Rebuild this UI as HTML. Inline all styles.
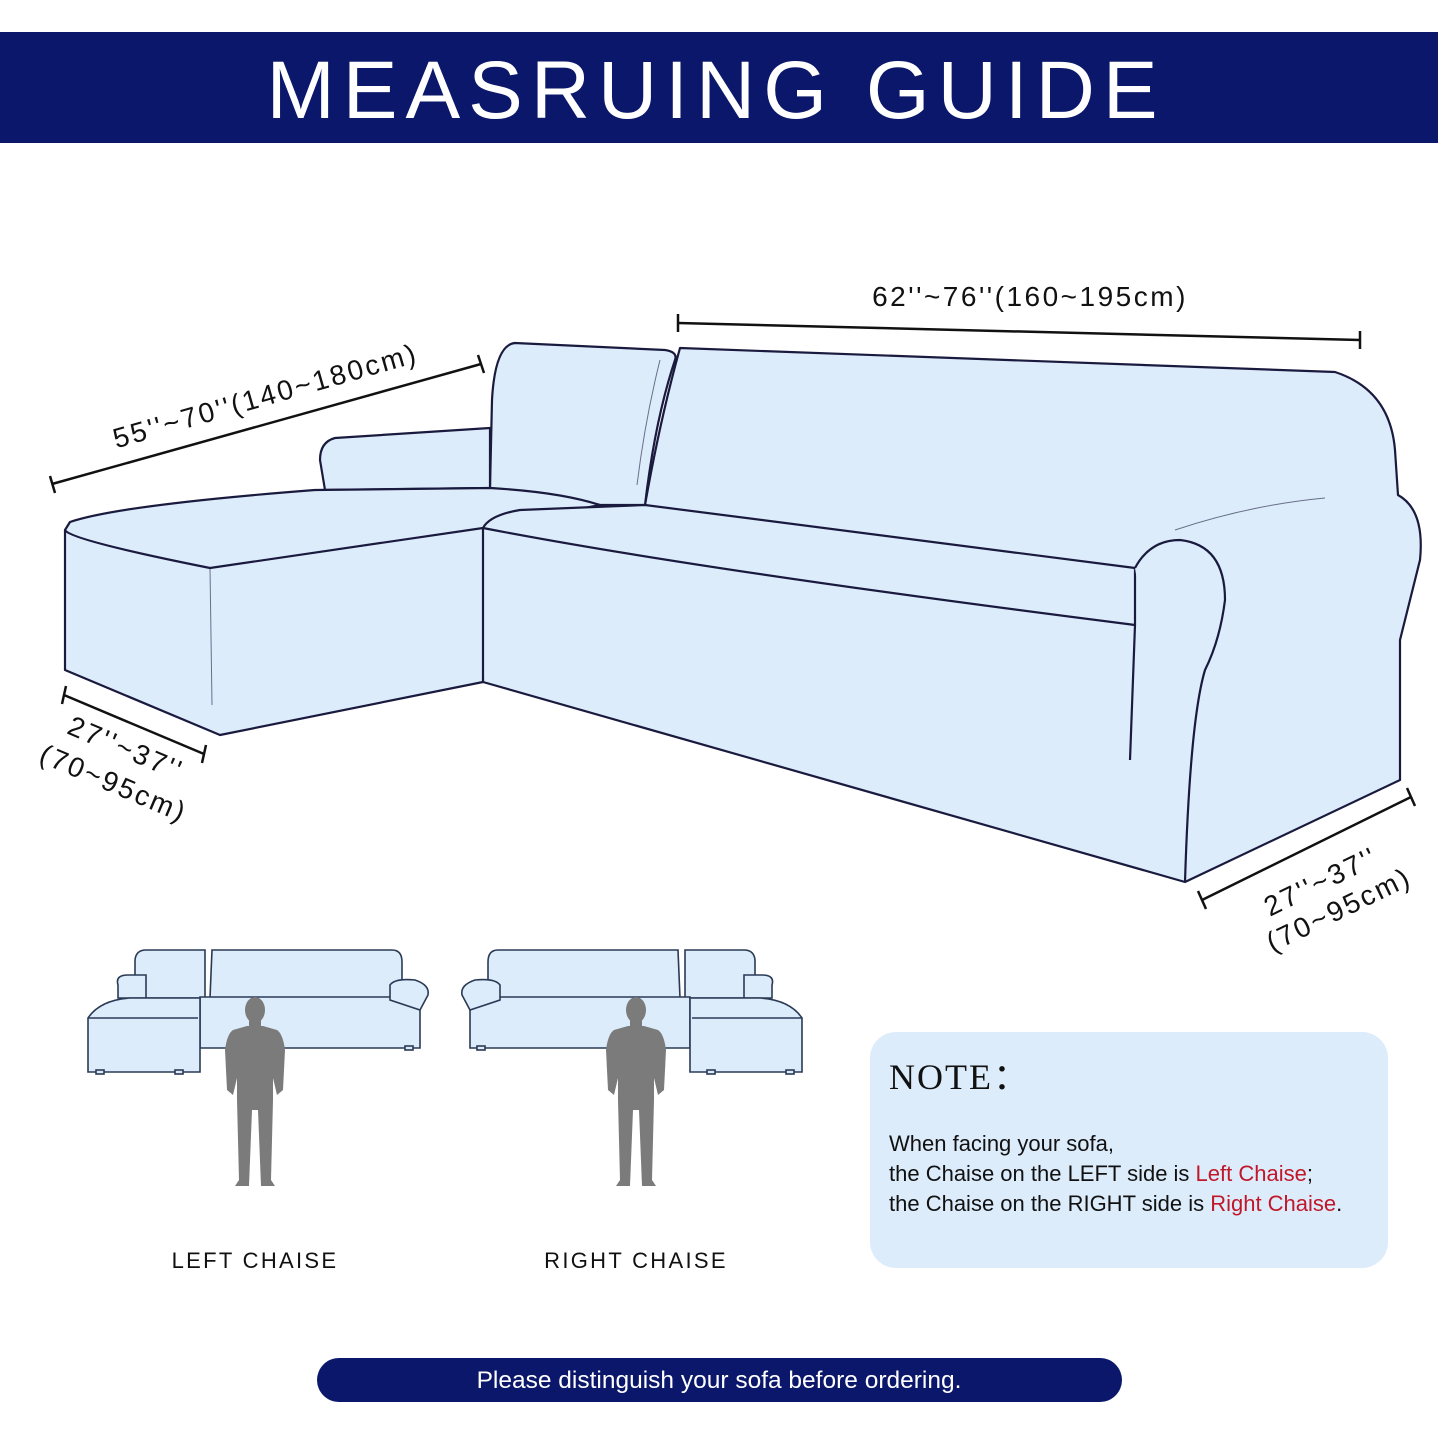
<!DOCTYPE html>
<html><head><style>
body{margin:0;background:#fff;width:1438px;height:1438px;overflow:hidden;font-family:"Liberation Sans",sans-serif}
</style></head><body>
<svg width="1438" height="1438" viewBox="0 0 1438 1438" xmlns="http://www.w3.org/2000/svg">
<rect x="0" y="32" width="1438" height="111" fill="#0a176a"/>
<text x="716" y="118" text-anchor="middle" fill="#fff" font-family="Liberation Sans, sans-serif" font-size="82" letter-spacing="8">MEASRUING GUIDE</text>

<g fill="#ddecfb" stroke="#1a1a3e" stroke-width="2.2" stroke-linejoin="round">
<path d="M680,348 L1335,372 Q1390,390 1395,450 L1398,495 Q1425,510 1420,560 Q1410,600 1400,640 L1400,780 L1185,882 L483,682 L480,528 Q490,515 520,510 L645,505 Q660,420 680,348 Z"/>
<path d="M515,343 L665,350 Q678,352 675,360 Q655,420 645,505 L600,505 Q560,495 490,488 L492,400 Q495,345 515,343 Z"/>
<path d="M490,428 L335,438 Q320,442 320,460 L325,490 L490,488 Z"/>
<path d="M70,522 Q120,505 315,490 L490,488 Q560,492 600,505 L483,528 L483,682 L220,735 L65,670 L65,530 Z"/>
<path d="M65,530 Q70,540 210,568 L483,528" fill="none"/>
<path d="M483,528 Q490,515 520,510 L645,505 L1135,568 L1135,625 Q700,570 483,528 Z"/>
<path d="M1135,568 Q1150,540 1180,540 Q1225,545 1225,600 Q1220,640 1205,670 Q1190,720 1185,882 L1185,882" />
<path d="M1135,625 L1130,760" fill="none"/>
</g>
<g stroke="#1a1a3e" stroke-width="1" fill="none" opacity="0.6">
<path d="M210,568 L212,705"/><path d="M660,360 Q645,420 637,485"/><path d="M1175,530 Q1250,505 1325,498"/>
</g>
<g stroke="#111" stroke-width="2.5">
<line x1="678" y1="323" x2="1360" y2="340"/><line x1="678" y1="314" x2="678" y2="332"/><line x1="1360" y1="331" x2="1360" y2="349"/>
<line x1="52" y1="484" x2="481" y2="364"/><line x1="50" y1="476" x2="55" y2="493"/><line x1="478" y1="355" x2="484" y2="373"/>
<line x1="64" y1="695" x2="204" y2="754"/><line x1="66" y1="686" x2="62" y2="704"/><line x1="206" y1="745" x2="202" y2="763"/>
<line x1="1202" y1="900" x2="1411" y2="797"/><line x1="1198" y1="891" x2="1206" y2="909"/><line x1="1407" y1="788" x2="1415" y2="806"/>
</g>
<g font-family="Liberation Sans, sans-serif" font-size="28" fill="#111" letter-spacing="2.5">
<text x="1030" y="306" text-anchor="middle">62''~76''(160~195cm)</text>
<text transform="translate(268,405) rotate(-16)" text-anchor="middle">55''~70''(140~180cm)</text>
<text transform="translate(122,757) rotate(23)" text-anchor="middle">27''~37''</text>
<text transform="translate(110,792) rotate(23)" text-anchor="middle">(70~95cm)</text>
<text transform="translate(1325,890) rotate(-26)" text-anchor="middle">27''~37''</text>
<text transform="translate(1343,918) rotate(-26)" text-anchor="middle">(70~95cm)</text>
</g>

<defs>
<g id="mini" fill="#ddecfb" stroke="#2a3a55" stroke-width="1.6">
<path d="M135,960 Q136,950 146,950 L205,950 L205,998 L135,998 Z"/>
<path d="M212,950 L392,950 Q402,950 402,962 L402,998 L210,998 Z"/>
<path d="M118,985 Q115,975 128,975 L146,975 L146,998 L118,998 Z"/>
<path d="M200,997 L420,997 L420,1048 L200,1048 Z"/>
<path d="M390,985 Q395,978 415,980 Q430,985 428,995 L420,1010 L390,1000 Z"/>
<path d="M88,1018 Q100,1000 130,998 L200,998 L200,1072 L88,1072 Z"/>
<line x1="88" y1="1018" x2="198" y2="1018"/>
<rect x="96" y="1070" width="8" height="4"/><rect x="175" y="1070" width="8" height="4"/><rect x="405" y="1046" width="8" height="4"/>
</g>
<g id="man" fill="#7b7b7b">
<ellipse cx="0" cy="1010" rx="10" ry="13"/>
<rect x="-6" y="1018" width="12" height="10"/>
<path d="M-22,1030 Q-28,1034 -30,1050 L-28,1090 L-22,1095 L-18,1078 L-18,1100 L-16,1180 L-20,1186 L-6,1186 L-3,1110 L3,1110 L6,1186 L20,1186 L16,1180 L18,1100 L18,1078 L22,1095 L28,1090 L30,1050 Q28,1034 22,1030 L8,1026 L-8,1026 Z"/>
</g>
</defs>
<use href="#mini"/>
<use href="#man" x="255"/>
<use href="#mini" transform="translate(890,0) scale(-1,1)"/>
<use href="#man" x="636"/>
<g font-family="Liberation Sans, sans-serif" font-size="22" fill="#111" letter-spacing="2.3" text-anchor="middle">
<text x="255" y="1268">LEFT CHAISE</text><text x="636" y="1268">RIGHT CHAISE</text>
</g>

<rect x="870" y="1032" width="518" height="236" rx="26" fill="#ddecfb"/>
<text x="889" y="1089" font-family="Liberation Serif, serif" font-size="36" fill="#111" letter-spacing="2">NOTE：</text>
<g font-family="Liberation Sans, sans-serif" font-size="22" fill="#111">
<text x="889" y="1151">When facing your sofa,</text>
<text x="889" y="1181">the Chaise on the LEFT side is <tspan fill="#c0182a">Left Chaise</tspan>;</text>
<text x="889" y="1211">the Chaise on the RIGHT side is <tspan fill="#c0182a">Right Chaise</tspan>.</text>
</g>

<rect x="317" y="1358" width="805" height="44" rx="22" fill="#0a176a"/>
<text x="719" y="1388" text-anchor="middle" font-family="Liberation Sans, sans-serif" font-size="24.5" fill="#fff">Please distinguish your sofa before ordering.</text>
</svg>
</body></html>
